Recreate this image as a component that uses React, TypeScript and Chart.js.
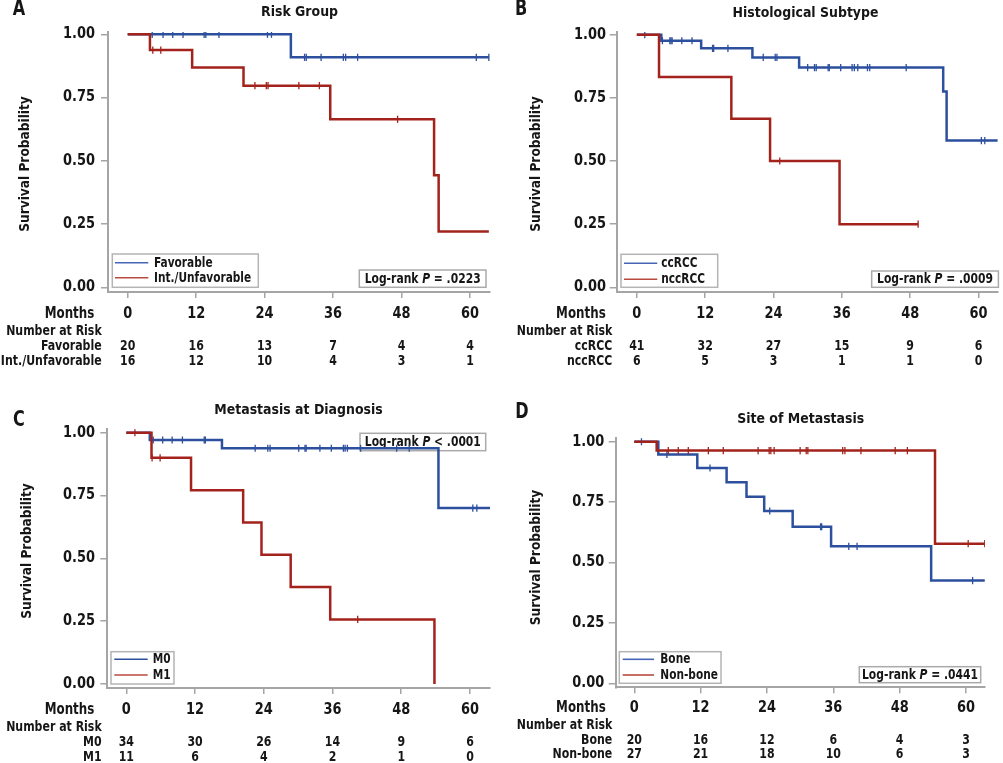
import React, { useEffect, useRef } from 'react';
import { Chart, registerables } from 'chart.js';

Chart.register(...registerables);

const FONT = "'DejaVu Sans Condensed', 'DejaVu Sans', sans-serif";
const BLUE = 'rgb(44,79,158)';
const RED = 'rgb(163,35,28)';
const BLUE_L = 'rgb(72,102,182)';
const RED_L = 'rgb(186,74,62)';
const AXIS = 'rgb(165,165,165)';
const INK = '#161616';

// ---------- shared ticks ----------
const monthTicks = [0, 12, 24, 36, 48, 60];
const survTicks = [0, 0.25, 0.5, 0.75, 1];

// ---------- Panel A: Risk Group ----------
const aFavTimes = [28.6];
const aFavSurv = [0.909];
const aFavEnd = 63.3;
const aFavCensor = [4.3, 6.2, 7.9, 9.7, 13.4, 13.7, 16.0, 24.5, 25.2, 31.0, 31.3, 33.9, 37.8, 38.2, 40.3, 61.1, 63.3];
const aUnfTimes = [3.9, 11.3, 20.3, 35.5, 53.7, 54.5];
const aUnfSurv = [0.9375, 0.869, 0.797, 0.664, 0.443, 0.221];
const aUnfEnd = 63.3;
const aUnfCensor = [4.4, 5.8, 22.3, 24.3, 24.6, 30.0, 33.6, 47.3];
const aRiskFav = [20, 16, 13, 7, 4, 4];
const aRiskUnf = [16, 12, 10, 4, 3, 1];

// ---------- Panel B: Histological Subtype ----------
const bCcTimes = [4.3, 11.3, 20.3, 28.5, 53.8, 54.4];
const bCcSurv = [0.976, 0.946, 0.91, 0.87, 0.775, 0.581];
const bCcEnd = 63.4;
const bCcCensor = [1.4, 4.5, 5.8, 6.0, 6.2, 7.9, 9.7, 13.3, 13.5, 16.0, 22.2, 24.3, 24.6, 30.0, 31.2, 31.5, 33.6, 33.8, 35.8, 37.8, 38.2, 38.8, 40.5, 40.9, 47.3, 60.5, 61.1];
const bNccTimes = [3.9, 16.6, 23.4, 35.6];
const bNccSurv = [0.833, 0.667, 0.5, 0.25];
const bNccEnd = 49.4;
const bNccCensor = [25.1, 49.4];
const bRiskCc = [41, 32, 27, 15, 9, 6];
const bRiskNcc = [6, 5, 3, 1, 1, 0];

// ---------- Panel C: Metastasis at Diagnosis ----------
const cM0Times = [4.1, 16.7, 54.5];
const cM0Surv = [0.971, 0.938, 0.7];
const cM0End = 63.5;
const cM0Censor = [4.7, 6.35, 8.0, 9.8, 13.6, 13.8, 22.5, 24.7, 25.1, 30.1, 31.2, 31.4, 33.8, 35.8, 37.9, 38.2, 38.6, 40.9, 47.2, 49.4, 60.5, 61.2];
const cM1Times = [4.4, 11.3, 20.4, 23.6, 28.7, 35.6, 53.8];
const cM1Surv = [0.9, 0.771, 0.643, 0.514, 0.386, 0.257, 0];
const cM1End = 53.8;
const cM1Censor = [1.5, 4.5, 5.9, 40.4];
const cRiskM0 = [34, 30, 26, 14, 9, 6];
const cRiskM1 = [11, 6, 4, 2, 1, 0];

// ---------- Panel D: Site of Metastasis ----------
const dBoneTimes = [4.35, 11.4, 16.7, 20.3, 23.5, 28.65, 35.6, 53.7];
const dBoneSurv = [0.947, 0.891, 0.832, 0.772, 0.713, 0.648, 0.567, 0.425];
const dBoneEnd = 63.4;
const dBoneCensor = [1.3, 5.9, 13.7, 24.5, 33.7, 33.9, 38.8, 40.3, 61.2];
const dNonTimes = [4.05, 54.4];
const dNonSurv = [0.963, 0.578];
const dNonEnd = 63.4;
const dNonCensor = [6.15, 7.96, 9.77, 13.4, 16.1, 22.4, 24.4, 24.7, 25.3, 30.0, 31.1, 31.4, 37.7, 38.1, 41.0, 47.2, 49.4, 60.4, 63.4];
const dRiskBone = [20, 16, 12, 6, 4, 3];
const dRiskNon = [27, 21, 18, 10, 6, 3];

type Curve = {
  label: string; color: string; legendColor: string;
  times: number[]; surv: number[]; end: number; censor: number[]; risk: number[]; order: number;
};

type Panel = {
  letter: string; title: string; pLabel: string;
  W: number; H: number; left: number; top: number;
  area: { l: number; r: number; t: number; b: number };
  xMin: number; xMax: number; yMin: number; yMax: number;
  letterPos: [number, number]; titlePos: [number, number]; yLabelPos: [number, number];
  yTickRight: number; xTickY: number;
  legendBox: { x: number; y: number; w: number; h: number; lx0: number; lx1: number; tx: number; rows: number[] };
  lrBox: { x: number; y: number; w: number; h: number };
  monthsRight: number; monthsY: number; narRight: number; narY: number; narRows: number[];
  curves: Curve[];
};

const panels: Panel[] = [
  {
    letter: 'A', title: 'Risk Group', pLabel: ' = .0223',
    W: 500, H: 380, left: 0, top: 0,
    area: { l: 108, r: 490, t: 32, b: 292 },
    xMin: -3.45, xMax: 63.5, yMin: -0.0186, yMax: 1.009,
    letterPos: [19, 9.5], titlePos: [299.5, 12.5], yLabelPos: [25, 164],
    yTickRight: 95, xTickY: 314,
    legendBox: { x: 112.3, y: 254, w: 146, h: 33.3, lx0: 115, lx1: 148.3, tx: 154, rows: [262.7, 277.7] },
    lrBox: { x: 359.3, y: 270, w: 126.7, h: 17.3 },
    monthsRight: 94.3, monthsY: 314, narRight: 101.7, narY: 331.7, narRows: [346.7, 361],
    curves: [
      { label: 'Favorable', color: BLUE, legendColor: BLUE_L, times: aFavTimes, surv: aFavSurv, end: aFavEnd, censor: aFavCensor, risk: aRiskFav, order: 2 },
      { label: 'Int./Unfavorable', color: RED, legendColor: RED_L, times: aUnfTimes, surv: aUnfSurv, end: aUnfEnd, censor: aUnfCensor, risk: aRiskUnf, order: 1 },
    ],
  },
  {
    letter: 'B', title: 'Histological Subtype', pLabel: ' = .0009',
    W: 503, H: 380, left: 500, top: 0,
    area: { l: 116.7, r: 501.7, t: 32, b: 292 },
    xMin: -3.53, xMax: 63.37, yMin: -0.0186, yMax: 1.0107,
    letterPos: [21, 9.5], titlePos: [305.5, 13], yLabelPos: [36.7, 164],
    yTickRight: 106, xTickY: 314,
    legendBox: { x: 121, y: 254.3, w: 96.7, h: 33, lx0: 124, lx1: 157.3, tx: 161.3, rows: [263.3, 279.3] },
    lrBox: { x: 371.7, y: 271, w: 126.7, h: 16.3 },
    monthsRight: 105.7, monthsY: 314, narRight: 112.3, narY: 331.7, narRows: [346.7, 361.7],
    curves: [
      { label: 'ccRCC', color: BLUE, legendColor: BLUE_L, times: bCcTimes, surv: bCcSurv, end: bCcEnd, censor: bCcCensor, risk: bRiskCc, order: 2 },
      { label: 'nccRCC', color: RED, legendColor: RED_L, times: bNccTimes, surv: bNccSurv, end: bNccEnd, censor: bNccCensor, risk: bRiskNcc, order: 1 },
    ],
  },
  {
    letter: 'C', title: 'Metastasis at Diagnosis', pLabel: ' < .0001',
    W: 500, H: 383, left: 0, top: 380,
    area: { l: 107.3, r: 490, t: 49.3, b: 308 },
    xMin: -3.32, xMax: 63.5, yMin: -0.016, yMax: 1.0135,
    letterPos: [19, 41], titlePos: [298.5, 30], yLabelPos: [27, 171],
    yTickRight: 95, xTickY: 330,
    legendBox: { x: 111, y: 271.7, w: 63, h: 32.3, lx0: 114.3, lx1: 147.7, tx: 152.7, rows: [279.3, 295] },
    lrBox: { x: 360, y: 53.3, w: 125.7, h: 17.4 },
    monthsRight: 94.3, monthsY: 330, narRight: 101.7, narY: 347.7, narRows: [362.7, 377.7],
    curves: [
      { label: 'M0', color: BLUE, legendColor: BLUE, times: cM0Times, surv: cM0Surv, end: cM0End, censor: cM0Censor, risk: cRiskM0, order: 2 },
      { label: 'M1', color: RED, legendColor: RED_L, times: cM1Times, surv: cM1Surv, end: cM1End, censor: cM1Censor, risk: cRiskM1, order: 1 },
    ],
  },
  {
    letter: 'D', title: 'Site of Metastasis', pLabel: ' = .0441',
    W: 503, H: 383, left: 500, top: 380,
    area: { l: 115.7, r: 485, t: 58.3, b: 307.3 },
    xMin: -3.36, xMax: 63.44, yMin: -0.0166, yMax: 1.014,
    letterPos: [22, 32.5], titlePos: [300.7, 39.3], yLabelPos: [36.7, 177.5],
    yTickRight: 104.3, xTickY: 327.7,
    legendBox: { x: 119.3, y: 271.7, w: 101.7, h: 31.6, lx0: 122.7, lx1: 154, tx: 160.3, rows: [279.3, 295] },
    lrBox: { x: 359.3, y: 286.7, w: 121.4, h: 16 },
    monthsRight: 105.7, monthsY: 327.7, narRight: 112.3, narY: 345.7, narRows: [360, 374.7],
    curves: [
      { label: 'Bone', color: BLUE, legendColor: BLUE_L, times: dBoneTimes, surv: dBoneSurv, end: dBoneEnd, censor: dBoneCensor, risk: dRiskBone, order: 2 },
      { label: 'Non-bone', color: RED, legendColor: RED_L, times: dNonTimes, surv: dNonSurv, end: dNonEnd, censor: dNonCensor, risk: dRiskNon, order: 1 },
    ],
  },
];

function survAt(c: Curve, t: number): number {
  let s = 1;
  for (let i = 0; i < c.times.length; i++) if (c.times[i] <= t) s = c.surv[i];
  return s;
}

type TOpt = { size: number; weight?: string; align?: 'left' | 'center' | 'right'; sx?: number; color?: string; italic?: boolean };

function textWidth(ctx: CanvasRenderingContext2D, s: string, o: TOpt): number {
  ctx.save();
  ctx.font = `${o.italic ? 'italic ' : ''}${o.weight ?? 'bold'} ${o.size}px ${FONT}`;
  const w = ctx.measureText(s).width * (o.sx ?? 0.9);
  ctx.restore();
  return w;
}

function drawText(ctx: CanvasRenderingContext2D, s: string, x: number, y: number, o: TOpt): number {
  const sx = o.sx ?? 0.9;
  ctx.save();
  ctx.font = `${o.italic ? 'italic ' : ''}${o.weight ?? 'bold'} ${o.size}px ${FONT}`;
  ctx.fillStyle = o.color ?? INK;
  ctx.textBaseline = 'middle';
  ctx.textAlign = 'left';
  const w = ctx.measureText(s).width * sx;
  let x0 = x;
  if (o.align === 'center') x0 = x - w / 2;
  else if (o.align === 'right') x0 = x - w;
  ctx.translate(x0, y);
  ctx.scale(sx, 1);
  ctx.fillText(s, 0, 0);
  ctx.restore();
  return w;
}

const F = {
  letter: { size: 21, sx: 0.85 },
  title: { size: 14.5, sx: 0.96 },
  ylab: { size: 14.5, sx: 0.935 },
  tick: { size: 15, sx: 0.96 },
  legend: { size: 14, sx: 0.84 },
  lr: { size: 14.5, sx: 0.825 },
  months: { size: 15, sx: 0.88 },
  nar: { size: 13.8, sx: 0.885 },
};

function makePlugin(p: Panel) {
  return {
    id: 'kmDecor' + p.letter,
    beforeDatasetsDraw(chart: any) {
      const ctx: CanvasRenderingContext2D = chart.ctx;
      const lb = p.legendBox;
      ctx.save();
      ctx.fillStyle = '#fff';
      ctx.strokeStyle = 'rgb(180,180,180)';
      ctx.lineWidth = 1.5;
      ctx.fillRect(lb.x, lb.y, lb.w, lb.h);
      ctx.strokeRect(lb.x, lb.y, lb.w, lb.h);
      p.curves.forEach((c, i) => {
        ctx.strokeStyle = c.legendColor;
        ctx.lineWidth = 1.6;
        ctx.beginPath();
        ctx.moveTo(lb.lx0, lb.rows[i]);
        ctx.lineTo(lb.lx1, lb.rows[i]);
        ctx.stroke();
        drawText(ctx, c.label, lb.tx, lb.rows[i] + 0.5, { ...F.legend, align: 'left' });
      });
      const b = p.lrBox;
      ctx.fillStyle = '#fff';
      ctx.strokeStyle = 'rgb(170,170,170)';
      ctx.lineWidth = 1.5;
      ctx.fillRect(b.x, b.y, b.w, b.h);
      ctx.strokeRect(b.x, b.y, b.w, b.h);
      const w1 = textWidth(ctx, 'Log-rank ', F.lr);
      const w2 = textWidth(ctx, 'P', { ...F.lr, italic: true });
      const w3 = textWidth(ctx, p.pLabel, F.lr);
      let x = b.x + b.w / 2 - (w1 + w2 + w3) / 2;
      const y = b.y + b.h / 2 + 0.5;
      x += drawText(ctx, 'Log-rank ', x, y, F.lr);
      x += drawText(ctx, 'P', x, y, { ...F.lr, italic: true });
      drawText(ctx, p.pLabel, x, y, F.lr);
      ctx.restore();
    },
    afterDraw(chart: any) {
      const ctx: CanvasRenderingContext2D = chart.ctx;
      const xs = chart.scales.x;
      const ys = chart.scales.y;
      drawText(ctx, p.letter, p.letterPos[0], p.letterPos[1], { ...F.letter, align: 'center' });
      drawText(ctx, p.title, p.titlePos[0], p.titlePos[1], { ...F.title, align: 'center' });
      ctx.save();
      ctx.translate(p.yLabelPos[0], p.yLabelPos[1]);
      ctx.rotate(-Math.PI / 2);
      drawText(ctx, 'Survival Probability', 0, 0, { ...F.ylab, align: 'center' });
      ctx.restore();
      survTicks.forEach((v) => {
        drawText(ctx, v.toFixed(2), p.yTickRight, ys.getPixelForValue(v), { ...F.tick, align: 'right' });
      });
      monthTicks.forEach((m) => {
        drawText(ctx, String(m), xs.getPixelForValue(m), p.xTickY, { ...F.tick, align: 'center' });
      });
      drawText(ctx, 'Months', p.monthsRight, p.monthsY, { ...F.months, align: 'right' });
      drawText(ctx, 'Number at Risk', p.narRight, p.narY, { ...F.nar, align: 'right' });
      p.curves.forEach((c, i) => {
        drawText(ctx, c.label, p.narRight, p.narRows[i], { ...F.nar, align: 'right' });
        monthTicks.forEach((m, j) => {
          drawText(ctx, String(c.risk[j]), xs.getPixelForValue(m), p.narRows[i], { ...F.nar, align: 'center' });
        });
      });
    },
  };
}

function KMPanel({ p }: { p: Panel }) {
  const ref = useRef<HTMLCanvasElement | null>(null);
  useEffect(() => {
    if (!ref.current) return;
    const datasets: any[] = [];
    p.curves.forEach((c) => {
      const last = c.surv.length ? c.surv[c.surv.length - 1] : 1;
      const pts = [{ x: 0, y: 1 }, ...c.times.map((t, i) => ({ x: t, y: c.surv[i] })), { x: c.end, y: last }];
      datasets.push({
        type: 'line', label: c.label, data: pts, stepped: 'before',
        borderColor: c.color, borderWidth: 2.5, pointRadius: 0, fill: false, order: c.order,
      });
      datasets.push({
        type: 'line', label: c.label + ' censored',
        data: c.censor.map((t) => ({ x: t, y: survAt(c, t) })),
        showLine: false, pointStyle: 'line', pointRotation: 90, pointRadius: 3.6,
        pointBorderWidth: 1.3, pointBorderColor: c.color, pointBackgroundColor: c.color, order: c.order,
      });
    });
    const axisCommon = {
      type: 'linear' as const,
      ticks: { display: false },
      border: { display: true, color: AXIS, width: 2 },
    };
    const chart = new Chart(ref.current, {
      type: 'line',
      data: { datasets },
      plugins: [makePlugin(p)],
      options: {
        animation: false,
        responsive: false,
        parsing: false as any,
        layout: { padding: { left: 0, top: p.area.t, right: p.W - p.area.r, bottom: 0 } },
        plugins: { legend: { display: false }, tooltip: { enabled: false } },
        scales: {
          x: {
            ...axisCommon,
            min: p.xMin, max: p.xMax,
            afterBuildTicks: (ax: any) => { ax.ticks = monthTicks.map((v) => ({ value: v })); },
            afterFit: (s: any) => { s.height = p.H - p.area.b; },
            grid: { drawOnChartArea: false, drawTicks: true, tickLength: 6, color: AXIS, lineWidth: 1.5 },
          },
          y: {
            ...axisCommon,
            min: p.yMin, max: p.yMax,
            afterBuildTicks: (ax: any) => { ax.ticks = survTicks.map((v) => ({ value: v })); },
            afterFit: (s: any) => { s.width = p.area.l; },
            grid: { drawOnChartArea: false, drawTicks: true, tickLength: 7, color: AXIS, lineWidth: 1.5 },
          },
        },
      } as any,
    });
    return () => chart.destroy();
  }, [p]);
  return (
    <canvas
      ref={ref}
      width={p.W}
      height={p.H}
      style={{ position: 'absolute', left: p.left, top: p.top, width: p.W, height: p.H }}
    />
  );
}

export default function App() {
  return (
    <div style={{ position: 'absolute', left: 0, top: 0, width: 1003, height: 763, background: '#fff' }}>
      {panels.map((p) => (
        <KMPanel key={p.letter} p={p} />
      ))}
    </div>
  );
}
